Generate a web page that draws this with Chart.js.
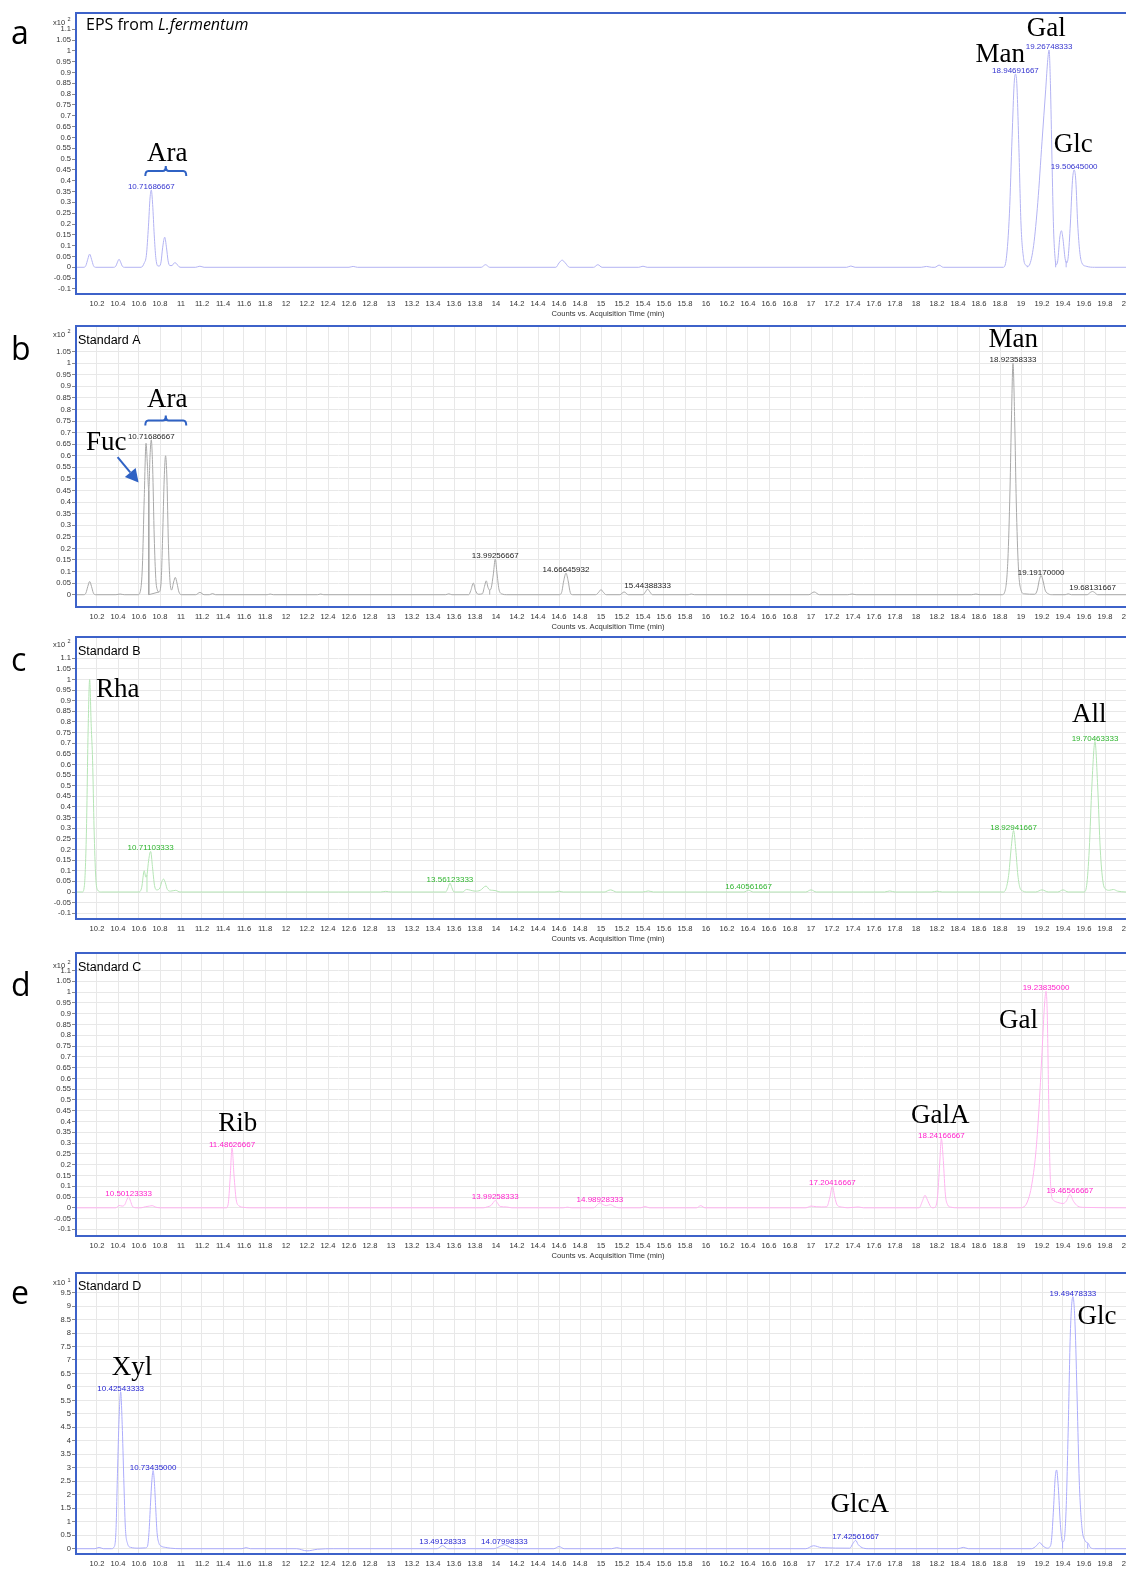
<!DOCTYPE html>
<html>
<head>
<meta charset="utf-8">
<script src="https://cdn.jsdelivr.net/npm/chart.js@4.4.1/dist/chart.umd.min.js"></script>
<style>
  html, body { margin: 0; padding: 0; background: #fff; }
  #wrap { position: relative; width: 1126px; height: 1577px; overflow: hidden; background: #fff; }
  #wrap canvas { position: absolute; left: 0; }
</style>
</head>
<body>
<div id="wrap"></div>
<script>
// ---- axis ticks -------------------------------------------------------
const X_TICKS = [10.2, 10.4, 10.6, 10.8, 11, 11.2, 11.4, 11.6, 11.8, 12, 12.2, 12.4, 12.6, 12.8, 13,
  13.2, 13.4, 13.6, 13.8, 14, 14.2, 14.4, 14.6, 14.8, 15, 15.2, 15.4, 15.6, 15.8, 16, 16.2, 16.4, 16.6,
  16.8, 17, 17.2, 17.4, 17.6, 17.8, 18, 18.2, 18.4, 18.6, 18.8, 19, 19.2, 19.4, 19.6, 19.8, 20];
const Y_TICKS_STD = [-0.1, -0.05, 0, 0.05, 0.1, 0.15, 0.2, 0.25, 0.3, 0.35, 0.4, 0.45, 0.5, 0.55, 0.6,
  0.65, 0.7, 0.75, 0.8, 0.85, 0.9, 0.95, 1, 1.05, 1.1];
const Y_TICKS_B = [0, 0.05, 0.1, 0.15, 0.2, 0.25, 0.3, 0.35, 0.4, 0.45, 0.5, 0.55, 0.6, 0.65, 0.7, 0.75,
  0.8, 0.85, 0.9, 0.95, 1, 1.05];
const Y_TICKS_E = [0, 0.5, 1, 1.5, 2, 2.5, 3, 3.5, 4, 4.5, 5, 5.5, 6, 6.5, 7, 7.5, 8, 8.5, 9, 9.5];
const X_TITLE = 'Counts vs. Acquisition Time (min)';

// ---- a: EPS from L.fermentum (time min, counts x10^2) ------------------
const PEAKS_A = [['10.71686667', 0.357], ['18.94691667', 0.893], ['19.26748333', 1.004], ['19.50645000', 0.45]];
const TRACE_A = [
  [10.0, 0], [10.076, 0], [10.094, 0.008], [10.112, 0.037], [10.13, 0.061], [10.148, 0.037], [10.166, 0.008], [10.184, 0],
  [10.36, 0], [10.38, 0.006], [10.395, 0.024], [10.41, 0.037], [10.425, 0.024], [10.44, 0.006], [10.46, 0],
  [10.62, 0], [10.65, 0.02], [10.67, 0.055], [10.69, 0.19], [10.705, 0.32], [10.73, 0.29], [10.745, 0.15],
  [10.76, 0.045], [10.78, 0.006], [10.795, 0.006], [10.81, 0.025], [10.825, 0.09], [10.845, 0.139], [10.862, 0.09],
  [10.877, 0.03], [10.893, 0.008], [10.915, 0.008], [10.93, 0.018], [10.945, 0.021], [10.96, 0.015], [10.98, 0.003], [11.0, 0],
  [11.14, 0], [11.18, 0.005], [11.22, 0], [12.6, 0], [12.64, 0.004], [12.68, 0],
  [13.86, 0], [13.9, 0.012], [13.94, 0], [14.57, 0], [14.6, 0.02], [14.63, 0.033], [14.66, 0.02], [14.7, 0],
  [14.93, 0], [14.97, 0.012], [15.01, 0], [15.36, 0], [15.4, 0.005], [15.44, 0], [17.34, 0], [17.38, 0.006], [17.42, 0],
  [18.05, 0], [18.1, 0.004], [18.15, 0], [18.18, 0], [18.22, 0.01], [18.26, 0],
  [18.83, 0], [18.86, 0.04], [18.89, 0.25], [18.915, 0.6], [18.935, 0.85], [18.96, 0.85], [18.98, 0.55], [19.0, 0.2],
  [19.025, 0.04], [19.05, 0.008], [19.065, 0.005],
  [19.08, 0.01], [19.12, 0.1], [19.16, 0.3], [19.2, 0.58], [19.235, 0.82], [19.255, 0.96], [19.28, 0.85], [19.295, 0.5],
  [19.31, 0.18], [19.325, 0.04], [19.335, 0.012],
  [19.35, 0.03], [19.37, 0.14], [19.385, 0.169], [19.4, 0.13], [19.42, 0.04], [19.435, 0.02],
  [19.45, 0.05], [19.47, 0.2], [19.49, 0.4], [19.522, 0.4], [19.54, 0.2], [19.56, 0.07], [19.58, 0.02], [19.62, 0.005],
  [19.7, 0], [20, 0]
];
const DROPS_A = [[19.06, 0], [19.06, 0.006], [19.06, null], [19.33, 0], [19.33, 0.03], [19.33, null], [19.43, 0], [19.43, 0.03]];

// ---- b: Standard A --------------------------------------------------------
const PEAKS_B = [['10.71686667', 0.669], ['13.99256667', 0.154], ['14.66645932', 0.093], ['15.44388333', 0.024],
  ['18.92358333', 1.0], ['19.19170000', 0.083], ['19.68131667', 0.014]];
const TRACE_B = [
  [10.0, 0], [10.075, 0], [10.095, 0.008], [10.112, 0.035], [10.13, 0.057], [10.148, 0.035], [10.165, 0.008], [10.185, 0],
  [10.38, 0], [10.42, 0.003], [10.46, 0],
  [10.59, 0], [10.615, 0.02], [10.632, 0.12], [10.65, 0.42], [10.667, 0.654], [10.68, 0.56], [10.693, 0.45], [10.705, 0.6],
  [10.73, 0.55], [10.745, 0.25], [10.76, 0.07], [10.775, 0.02], [10.79, 0.012], [10.81, 0.05], [10.825, 0.25], [10.84, 0.5],
  [10.853, 0.6], [10.866, 0.5], [10.88, 0.22], [10.895, 0.06], [10.91, 0.02], [10.93, 0.055], [10.946, 0.075],
  [10.962, 0.05], [10.98, 0.012], [11.01, 0],
  [11.14, 0], [11.18, 0.01], [11.22, 0], [11.27, 0], [11.3, 0.005], [11.33, 0],
  [11.82, 0], [11.85, 0.003], [11.88, 0], [12.3, 0], [12.33, 0.003], [12.36, 0],
  [13.52, 0], [13.55, 0.004], [13.58, 0],
  [13.74, 0], [13.76, 0.018], [13.784, 0.05], [13.805, 0.018], [13.83, 0.002], [13.87, 0.004], [13.89, 0.035],
  [13.907, 0.06], [13.925, 0.03], [13.94, 0.02], [13.955, 0.03], [13.975, 0.09], [14.01, 0.09], [14.03, 0.02],
  [14.06, 0.003], [14.1, 0],
  [14.6, 0], [14.625, 0.01], [14.645, 0.06], [14.687, 0.06], [14.707, 0.01], [14.73, 0],
  [14.95, 0], [14.98, 0.012], [15.0, 0.022], [15.02, 0.012], [15.05, 0], [15.18, 0], [15.22, 0.012], [15.26, 0],
  [15.4, 0], [15.423, 0.012], [15.466, 0.012], [15.49, 0], [15.83, 0], [15.86, 0.003], [15.89, 0],
  [16.98, 0], [17.03, 0.012], [17.08, 0], [17.35, 0], [17.39, 0.003], [17.43, 0], [18.53, 0], [18.57, 0.003], [18.61, 0],
  [18.82, 0], [18.85, 0.02], [18.875, 0.15], [18.895, 0.45], [18.91, 0.78], [18.94, 0.75], [18.955, 0.4], [18.975, 0.12],
  [19.0, 0.02], [19.03, 0.004],
  [19.13, 0.002], [19.155, 0.02], [19.175, 0.065], [19.21, 0.06], [19.23, 0.02], [19.26, 0.004], [19.3, 0],
  [19.42, 0], [19.45, 0.004], [19.48, 0], [19.63, 0], [19.66, 0.01], [19.7, 0.01], [19.73, 0], [20, 0]
];
const DROPS_B = [[10.693, 0.45], [10.693, 0], [10.79, 0.012], [10.79, null], [13.94, 0], [13.94, 0.02]];

// ---- c: Standard B --------------------------------------------------------
const PEAKS_C = [['10.71103333', 0.191], ['13.56123333', 0.042], ['16.40561667', 0.008], ['18.92941667', 0.289],
  ['19.70463333', 0.708]];
const TRACE_C = [
  [10.0, 0], [10.06, 0], [10.08, 0.03], [10.1, 0.3], [10.115, 0.75], [10.13, 1.0], [10.145, 0.78], [10.158, 0.62],
  [10.172, 0.3], [10.188, 0.07], [10.205, 0.01], [10.24, 0],
  [10.6, 0], [10.625, 0.02], [10.65, 0.1], [10.665, 0.07], [10.676, 0.08], [10.692, 0.15], [10.728, 0.12], [10.748, 0.03],
  [10.77, 0.01], [10.8, 0.02], [10.818, 0.05], [10.834, 0.061], [10.85, 0.045], [10.87, 0.012], [10.9, 0.004],
  [10.95, 0.008], [10.99, 0],
  [12.9, 0], [12.95, 0.003], [13.0, 0],
  [13.52, 0], [13.543, 0.02], [13.58, 0.02], [13.6, 0],
  [13.68, 0], [13.72, 0.012], [13.76, 0.008], [13.8, 0.004], [13.85, 0.008], [13.905, 0.028], [13.94, 0.01],
  [13.97, 0.008], [14.0, 0.006], [14.04, 0],
  [14.56, 0], [14.6, 0.004], [14.64, 0], [15.03, 0], [15.09, 0.01], [15.15, 0], [15.4, 0], [15.45, 0.005], [15.5, 0],
  [16.36, 0], [16.45, 0], [16.95, 0], [17.0, 0.01], [17.05, 0], [17.7, 0], [17.75, 0.005], [17.8, 0],
  [18.15, 0], [18.2, 0.004], [18.25, 0],
  [18.83, 0], [18.86, 0.02], [18.885, 0.09], [18.905, 0.2], [18.95, 0.2], [18.97, 0.08], [18.99, 0.02], [19.02, 0.004],
  [19.05, 0],
  [19.14, 0], [19.2, 0.01], [19.26, 0], [19.35, 0], [19.4, 0.01], [19.45, 0],
  [19.6, 0], [19.625, 0.03], [19.65, 0.2], [19.675, 0.5], [19.73, 0.5], [19.755, 0.2], [19.78, 0.05], [19.81, 0.012],
  [19.84, 0.008], [19.88, 0.012], [19.92, 0.004], [20, 0]
];
const DROPS_C = [[10.676, 0], [10.676, 0.08]];

// ---- d: Standard C --------------------------------------------------------
const PEAKS_D = [['10.50123333', 0.051], ['11.48626667', 0.278], ['13.99258333', 0.034], ['14.98928333', 0.023],
  ['17.20416667', 0.1], ['18.24166667', 0.321], ['19.23835000', 1.004], ['19.46566667', 0.062]];
const TRACE_D = [
  [10.0, 0], [10.38, 0], [10.41, 0.011], [10.44, 0.008], [10.465, 0.015], [10.482, 0.035], [10.52, 0.03], [10.54, 0.005],
  [10.58, 0], [10.62, 0], [10.66, 0.005], [10.7, 0.008], [10.725, 0.01], [10.76, 0.003], [10.8, 0],
  [11.43, 0], [11.45, 0.02], [11.467, 0.13], [11.505, 0.15], [11.525, 0.04], [11.55, 0.01], [11.6, 0.002], [11.65, 0],
  [13.88, 0], [13.92, 0.005], [13.95, 0.01], [13.975, 0.025], [14.01, 0.025], [14.04, 0.006], [14.1, 0.004], [14.15, 0],
  [14.64, 0], [14.68, 0.003], [14.72, 0],
  [14.93, 0], [14.96, 0.012], [15.02, 0.015], [15.05, 0.01], [15.09, 0.015], [15.13, 0.005], [15.17, 0],
  [15.38, 0], [15.42, 0.006], [15.46, 0], [15.91, 0], [15.95, 0.01], [15.99, 0],
  [16.95, 0], [17.0, 0.008], [17.05, 0.005], [17.1, 0.004], [17.15, 0.005], [17.178, 0.045], [17.226, 0.05],
  [17.25, 0.012], [17.3, 0.003], [17.35, 0], [17.45, 0.004], [17.5, 0],
  [18.03, 0], [18.06, 0.03], [18.086, 0.058], [18.11, 0.035], [18.14, 0.005], [18.16, 0], [18.18, 0.002],
  [18.205, 0.05], [18.225, 0.2], [18.26, 0.22], [18.28, 0.06], [18.3, 0.015], [18.33, 0.003], [18.4, 0],
  [18.98, 0], [19.03, 0.005], [19.07, 0.04], [19.1, 0.1], [19.14, 0.25], [19.17, 0.45], [19.2, 0.72], [19.225, 0.95],
  [19.25, 0.9], [19.262, 0.55], [19.275, 0.2], [19.29, 0.06], [19.31, 0.035], [19.35, 0.025], [19.4, 0.02],
  [19.43, 0.03], [19.5, 0.03], [19.54, 0.008], [19.6, 0.002], [20, 0]
];
const DROPS_D = [];

// ---- e: Standard D (counts x10^1) ------------------------------------------
const PEAKS_E = [['10.42543333', 5.82], ['10.73435000', 2.9], ['13.49128333', 0.12], ['14.07998333', 0.15],
  ['17.42561667', 0.31], ['19.49478333', 9.35]];
const TRACE_E = [
  [10.0, 0], [10.18, 0], [10.22, 0.05], [10.26, 0],
  [10.34, 0], [10.36, 0.05], [10.38, 0.6], [10.395, 2.8], [10.41, 4.8], [10.44, 4.6], [10.455, 2.6], [10.47, 0.8],
  [10.49, 0.2], [10.52, 0.05], [10.6, 0.02], [10.66, 0.03],
  [10.68, 0.08], [10.695, 0.6], [10.71, 1.7], [10.722, 2.5], [10.746, 2.5], [10.758, 1.6], [10.772, 0.6], [10.79, 0.2],
  [10.81, 0.1], [10.85, 0.05], [10.9, 0.02], [11.0, 0],
  [11.58, 0], [11.62, 0.04], [11.66, 0], [12.1, 0], [12.2, -0.08], [12.3, -0.02], [12.45, 0],
  [13.44, 0], [13.54, 0], [13.98, 0], [14.03, 0.07], [14.13, 0.06], [14.18, 0],
  [14.55, 0], [14.6, 0.08], [14.65, 0], [15.1, 0], [15.15, 0.04], [15.2, 0],
  [16.95, 0], [17.025, 0.11], [17.1, 0.04], [17.37, 0.02], [17.4, 0.2], [17.45, 0.15], [17.5, 0.02], [17.55, 0],
  [18.4, 0], [18.45, 0.05], [18.5, 0],
  [19.1, 0], [19.15, 0.12], [19.177, 0.23], [19.21, 0.1], [19.25, 0.02], [19.27, 0.05],
  [19.29, 0.3], [19.31, 1.5], [19.325, 2.6], [19.339, 2.92], [19.355, 2.3], [19.375, 0.9], [19.395, 0.25],
  [19.41, 0.3], [19.43, 1.5], [19.45, 4.5], [19.47, 8.0], [19.515, 8.3], [19.535, 5.5], [19.555, 2.5], [19.58, 0.8],
  [19.61, 0.3], [19.64, 0.2], [19.66, 0.05], [19.7, 0], [20, 0]
];
const DROPS_E = [[19.396, 0], [19.396, 0.25], [19.396, null], [19.635, 0], [19.635, 0.2]];

// ---- sugar names, placed at [time, counts] ----------------------------------
const NAMES_A = [['Ara', 10.870, 0.491], ['Man', 18.803, 0.950], ['Gal', 19.241, 1.069], ['Glc', 19.498, 0.534]];
const NAMES_B = [['Fuc', 10.289, 0.626], ['Ara', 10.870, 0.810], ['Man', 18.926, 1.070]];
const NAMES_C = [['Rha', 10.398, 0.919], ['All', 19.651, 0.802]];
const NAMES_D = [['Rib', 11.541, 0.355], ['GalA', 18.230, 0.391], ['Gal', 18.977, 0.834]];
const NAMES_E = [['Xyl', 10.533, 6.44], ['Glc', 19.724, 8.35], ['GlcA', 17.465, 1.38]];

const FRAME = '#3d62c9';
const MARK = '#2f62c4';

const PANELS = [
  { key: 'a', top: 13, bottom: 294, ymin: -0.1234, ymax: 1.1751, yTicks: Y_TICKS_STD, grid: false,
    line: '#b3b3f3', ink: '#3434cf', trace: TRACE_A, peaks: PEAKS_A, drops: DROPS_A, names: NAMES_A,
    braces: [[10.66, 11.05, 0.445]], arrows: [], letterY: 43.5, titleY: 29.5, expY: 22.5, exp: '2' },
  { key: 'b', top: 326, bottom: 607, ymin: -0.053, ymax: 1.1605, yTicks: Y_TICKS_B, grid: true,
    line: '#a9a9a9', ink: '#1e1e1e', trace: TRACE_B, peaks: PEAKS_B, drops: DROPS_B, names: NAMES_B,
    braces: [[10.66, 11.05, 0.752]], arrows: [[10.396, 0.594, 10.596, 0.485]], letterY: 360, titleY: 343.5, expY: 334, exp: '2' },
  { key: 'c', top: 637, bottom: 919, ymin: -0.127, ymax: 1.1997, yTicks: Y_TICKS_STD, grid: true,
    line: '#b5e5b5', ink: '#2fb52f', trace: TRACE_C, peaks: PEAKS_C, drops: DROPS_C, names: NAMES_C,
    braces: [], arrows: [], letterY: 671, titleY: 654.5, expY: 644, exp: '2' },
  { key: 'd', top: 953, bottom: 1236, ymin: -0.1307, ymax: 1.1816, yTicks: Y_TICKS_STD, grid: true,
    line: '#ffb4f0', ink: '#ff22cc', trace: TRACE_D, peaks: PEAKS_D, drops: DROPS_D, names: NAMES_D,
    braces: [], arrows: [], letterY: 996, titleY: 971, expY: 965, exp: '2' },
  { key: 'e', top: 1273, bottom: 1554, ymin: -0.196, ymax: 10.226, yTicks: Y_TICKS_E, grid: true,
    line: '#acacfc', ink: '#2727d2', trace: TRACE_E, peaks: PEAKS_E, drops: DROPS_E, names: NAMES_E,
    braces: [], arrows: [], letterY: 1304, titleY: 1289.5, expY: 1282.7, exp: '1' }
];
const TITLES = { a: null, b: 'Standard A', c: 'Standard B', d: 'Standard C', e: 'Standard D' };

// merge the labelled apexes into the trace so each label sits on its own point
function series(trace, peaks) {
  return trace.concat(peaks.map(p => [Number(p[0]), p[1]])).sort((p, q) => p[0] - q[0]);
}

const overlay = {
  id: 'overlay',
  afterDraw(chart) {
    const P = chart.options.plugins.overlay.panel;
    const off = P.top - 4;
    const { ctx, chartArea: ca } = chart;
    const xs = chart.scales.x, ys = chart.scales.y;
    const px = t => xs.getPixelForValue(t);
    const py = v => ys.getPixelForValue(v);
    ctx.save();

    // panel frame (right side runs off the page)
    ctx.strokeStyle = FRAME;
    ctx.lineWidth = 2;
    ctx.beginPath();
    ctx.moveTo(chart.width + 2, ca.top);
    ctx.lineTo(ca.left, ca.top);
    ctx.lineTo(ca.left, ca.bottom);
    ctx.lineTo(chart.width + 2, ca.bottom);
    ctx.stroke();

    // x-axis title
    if (P.key !== 'e') {
      ctx.fillStyle = '#333';
      ctx.font = '7.6px "Liberation Sans"';
      ctx.textAlign = 'center';
      ctx.textBaseline = 'middle';
      ctx.fillText(X_TITLE, 608, ca.bottom + 19.5);
    }

    // panel letter
    ctx.fillStyle = '#000';
    ctx.textAlign = 'left';
    ctx.textBaseline = 'alphabetic';
    ctx.font = '32px "Open Sans"';
    ctx.fillText(P.key, 11, P.letterY - off);

    // panel title
    if (P.key === 'a') {
      ctx.font = '16px "Open Sans"';
      ctx.fillText('EPS from ', 86, P.titleY - off);
      const w = ctx.measureText('EPS from ').width;
      ctx.font = 'italic 16px "Open Sans"';
      ctx.fillText('L.fermentum', 86 + w, P.titleY - off);
    } else {
      ctx.font = '12.5px "Liberation Sans"';
      ctx.fillText(TITLES[P.key], 78, P.titleY - off);
    }

    // axis multiplier
    ctx.fillStyle = '#333';
    ctx.font = '7.5px "Liberation Sans"';
    ctx.fillText('x10', 53, P.expY - off + 2.7);
    ctx.font = '5.5px "Liberation Sans"';
    ctx.fillText(P.exp, 67.5, P.expY - off - 1.2);

    // retention-time labels on the peaks
    ctx.font = '8px "Liberation Sans"';
    ctx.fillStyle = P.ink;
    ctx.textAlign = 'center';
    P.peaks.forEach(([t, h]) => ctx.fillText(t, px(Number(t)), py(h) - 1));

    // sugar names
    ctx.font = '27px "Liberation Serif"';
    ctx.fillStyle = '#000';
    P.names.forEach(([s, t, v]) => ctx.fillText(s, px(t), py(v)));

    // braces
    ctx.strokeStyle = MARK;
    ctx.lineWidth = 2;
    P.braces.forEach(([t0, t1, v]) => {
      const x0 = px(t0), x1 = px(t1), y = py(v), xm = (x0 + x1) / 2, d = 5, r = 3;
      ctx.beginPath();
      ctx.moveTo(x0, y + d);
      ctx.quadraticCurveTo(x0, y, x0 + r, y);
      ctx.lineTo(xm - r, y);
      ctx.quadraticCurveTo(xm, y, xm, y - d);
      ctx.quadraticCurveTo(xm, y, xm + r, y);
      ctx.lineTo(x1 - r, y);
      ctx.quadraticCurveTo(x1, y, x1, y + d);
      ctx.stroke();
    });

    // arrows
    ctx.fillStyle = MARK;
    P.arrows.forEach(([t0, v0, t1, v1]) => {
      const ax0 = px(t0), ay0 = py(v0), ax1 = px(t1), ay1 = py(v1);
      const ang = Math.atan2(ay1 - ay0, ax1 - ax0), L = 13, W = 7;
      const bx = ax1 - L * Math.cos(ang), by = ay1 - L * Math.sin(ang);
      ctx.beginPath();
      ctx.moveTo(ax0, ay0);
      ctx.lineTo(bx, by);
      ctx.stroke();
      ctx.beginPath();
      ctx.moveTo(ax1, ay1);
      ctx.lineTo(bx + W * Math.sin(ang), by - W * Math.cos(ang));
      ctx.lineTo(bx - W * Math.sin(ang), by + W * Math.cos(ang));
      ctx.closePath();
      ctx.fill();
    });

    ctx.restore();
  }
};

const wrap = document.getElementById('wrap');
const tickFont = { family: '"Liberation Sans", Arial, sans-serif', size: 7.6 };

PANELS.forEach(P => {
  const canvas = document.createElement('canvas');
  const top = P.top - 4;
  const xh = P.key === 'e' ? 1577 - P.bottom : 30;
  const h = P.bottom - P.top + 4 + xh;
  canvas.width = 1126;
  canvas.height = h;
  canvas.style.top = top + 'px';
  canvas.style.width = '1126px';
  canvas.style.height = h + 'px';
  wrap.appendChild(canvas);
  const gridColor = P.grid ? '#e8e8e8' : 'rgba(0,0,0,0)';

  new Chart(canvas, {
    type: 'line',
    data: {
      datasets: [
        { data: series(P.trace, P.peaks), borderColor: P.line, borderWidth: 1, pointRadius: 0,
          cubicInterpolationMode: 'monotone', fill: false },
        { data: P.drops, borderColor: P.line, borderWidth: 1, pointRadius: 0, tension: 0,
          spanGaps: false, fill: false }
      ]
    },
    options: {
      responsive: false,
      animation: false,
      devicePixelRatio: 1,
      layout: { padding: { top: 4, left: 0, right: 0, bottom: 0 } },
      plugins: { legend: { display: false }, tooltip: { enabled: false }, overlay: { panel: P } },
      scales: {
        x: {
          type: 'linear', min: 10, max: 20, bounds: 'data',
          afterBuildTicks: s => { s.ticks = X_TICKS.map(v => ({ value: v })); },
          afterFit: s => { s.height = xh; s.paddingLeft = 0; s.paddingRight = 0; },
          ticks: { autoSkip: false, maxRotation: 0, minRotation: 0, padding: 5.2, color: '#333',
            font: tickFont, callback: v => String(v) },
          grid: { display: P.grid, color: gridColor, drawTicks: false },
          border: { display: false },
          title: { display: false }
        },
        y: {
          type: 'linear', min: P.ymin, max: P.ymax, bounds: 'data',
          afterBuildTicks: s => { s.ticks = P.yTicks.map(v => ({ value: v })); },
          afterFit: s => { s.width = 76; s.paddingTop = 0; s.paddingBottom = 0; },
          ticks: { autoSkip: false, padding: 1, color: '#333', font: tickFont, callback: v => String(v) },
          grid: { color: gridColor, drawOnChartArea: P.grid, drawTicks: true, tickLength: 4,
            tickColor: '#8a8a8a', tickWidth: 1 },
          border: { display: false }
        }
      }
    },
    plugins: [overlay]
  });
});
</script>
</body>
</html>
